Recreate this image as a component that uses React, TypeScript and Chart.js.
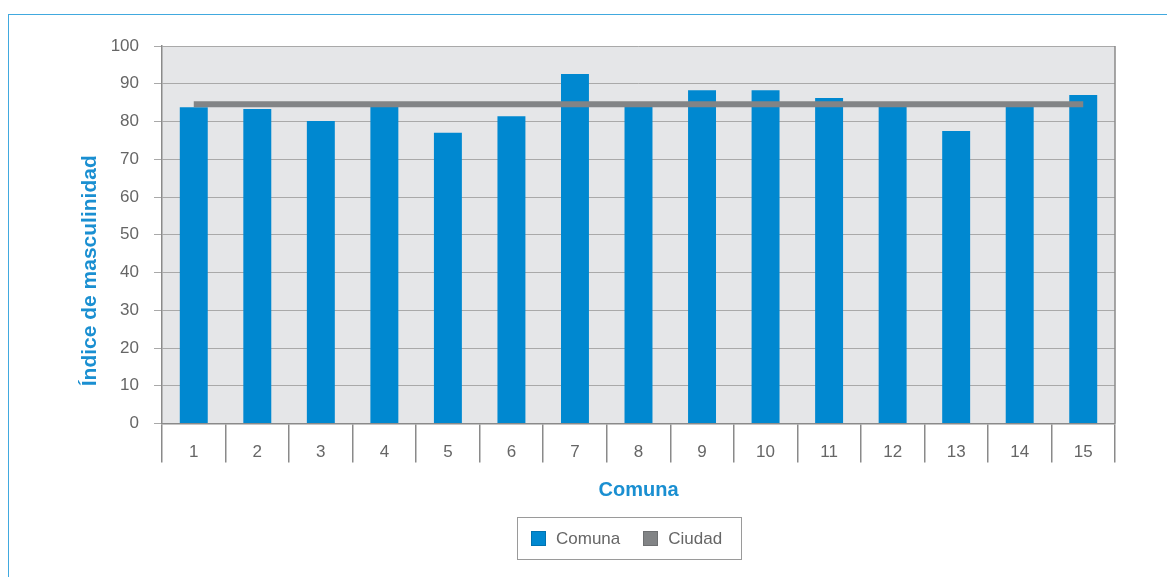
import React, { useEffect, useRef } from "react";
import { Chart, registerables } from "chart.js";

Chart.register(...registerables);

// Comunas 1–15
const categories = ["1", "2", "3", "4", "5", "6", "7", "8", "9", "10", "11", "12", "13", "14", "15"];
// Índice de masculinidad por comuna
const comunaValues = [83.8, 83.3, 80.1, 84.0, 77.0, 81.4, 92.6, 84.1, 88.3, 88.3, 86.2, 84.0, 77.5, 84.3, 87.0];
// Promedio de la ciudad
const ciudadValue = 84.6;
const ciudadValues = categories.map(() => ciudadValue);
const yTicks = [0, 10, 20, 30, 40, 50, 60, 70, 80, 90, 100];
const yTitle = "Índice de masculinidad";
const xTitle = "Comuna";

const BLUE = "#0088d0";
const GRAY_LINE = "#828486";
const TITLE_BLUE = "#1a8fd1";
const TEXT = "#666666";
const FONT = "'Liberation Sans', Arial, sans-serif";

const plotFrame = {
  id: "plotFrame",
  beforeDraw(chart: any) {
    const { ctx, chartArea: a } = chart;
    ctx.save();
    ctx.fillStyle = "#e5e6e8";
    ctx.fillRect(a.left, a.top, a.right - a.left, a.bottom - a.top);
    ctx.restore();
  },
  beforeDatasetsDraw(chart: any) {
    const { ctx, chartArea: a } = chart;
    ctx.save();
    ctx.strokeStyle = "#8a8a8a";
    ctx.lineWidth = 1.5;
    ctx.beginPath();
    ctx.moveTo(a.right, a.top);
    ctx.lineTo(a.right, a.bottom);
    ctx.stroke();
    ctx.restore();
  },
  afterDraw(chart: any) {
    // vertical axis title, set a little below the plot's middle
    const { ctx, chartArea: a } = chart;
    ctx.save();
    ctx.translate(90.5, (a.top + a.bottom) / 2 + 36);
    ctx.rotate(-Math.PI / 2);
    ctx.font = `bold 21px ${FONT}`;
    ctx.fillStyle = TITLE_BLUE;
    ctx.textAlign = "center";
    ctx.textBaseline = "middle";
    ctx.fillText(yTitle, 0, 0);
    ctx.restore();
  },
};

export default function App() {
  const canvasRef = useRef<HTMLCanvasElement | null>(null);

  useEffect(() => {
    if (!canvasRef.current) return;
    const chart = new Chart(canvasRef.current, {
      type: "bar",
      data: {
        labels: categories,
        datasets: [
          {
            type: "line",
            label: "Ciudad",
            data: ciudadValues,
            borderColor: GRAY_LINE,
            backgroundColor: GRAY_LINE,
            borderWidth: 6,
            pointRadius: 0,
            borderCapStyle: "butt",
            order: 0,
          } as any,
          {
            type: "bar",
            label: "Comuna",
            data: comunaValues,
            backgroundColor: BLUE,
            borderWidth: 0,
            barPercentage: 0.44,
            categoryPercentage: 1,
            order: 1,
          },
        ],
      },
      options: {
        animation: false,
        responsive: false,
        maintainAspectRatio: false,
        layout: { padding: { left: 77, right: 52, top: 46, bottom: 75 } },
        plugins: {
          legend: { display: false },
          tooltip: { enabled: false },
        },
        scales: {
          x: {
            offset: true,
            grid: {
              offset: true,
              drawOnChartArea: false,
              drawTicks: true,
              tickLength: 39,
              color: "#8a8a8a",
              lineWidth: 1.5,
            },
            border: { display: true, color: "#8a8a8a", width: 1.5 },
            ticks: {
              padding: -20,
              color: TEXT,
              font: { family: FONT, size: 17 },
              maxRotation: 0,
            },
            title: {
              display: true,
              text: xTitle,
              color: TITLE_BLUE,
              font: { family: FONT, size: 20, weight: "bold" },
              padding: 0,
            },
            afterFit(scale: any) {
              scale.height = 78.5;
            },
          },
          y: {
            min: 0,
            max: 100,
            afterBuildTicks(scale: any) {
              scale.ticks = yTicks.map((v) => ({ value: v }));
            },
            grid: {
              color: "#a9a9a9",
              lineWidth: 1,
              tickLength: 8,
              drawTicks: true,
            },
            border: { display: true, color: "#8a8a8a", width: 1.5 },
            ticks: {
              padding: 15,
              color: TEXT,
              font: { family: FONT, size: 17 },
            },
            title: { display: false },
            afterFit(scale: any) {
              scale.width = 85;
            },
          },
        },
      },
      plugins: [plotFrame],
    });
    return () => chart.destroy();
  }, []);

  const swatch = (color: string): React.CSSProperties => ({
    display: "inline-block",
    width: 15,
    height: 15,
    background: color,
    border: "1px solid rgba(0,0,0,0.15)",
    boxSizing: "border-box",
    marginRight: 10,
  });

  return (
    <div style={{ position: "absolute", left: 0, top: 0, width: 1167, height: 577, overflow: "hidden", background: "#fff" }}>
      <div
        style={{
          position: "absolute",
          left: 8,
          top: 14,
          width: 1300,
          height: 700,
          border: "1.5px solid #41a9df",
          boxSizing: "border-box",
        }}
      />
      <canvas ref={canvasRef} width={1167} height={577} style={{ position: "absolute", left: 0, top: 0 }} />
      <div
        style={{
          position: "absolute",
          left: 517,
          top: 517,
          width: 225,
          height: 43,
          border: "1px solid #9a9a9a",
          boxSizing: "border-box",
          display: "flex",
          alignItems: "center",
          paddingLeft: 13,
          fontFamily: FONT,
          fontSize: 17,
          color: TEXT,
        }}
      >
        <span style={{ display: "flex", alignItems: "center" }}>
          <span style={swatch(BLUE)} />
          Comuna
        </span>
        <span style={{ display: "flex", alignItems: "center", marginLeft: 23 }}>
          <span style={swatch(GRAY_LINE)} />
          Ciudad
        </span>
      </div>
    </div>
  );
}
